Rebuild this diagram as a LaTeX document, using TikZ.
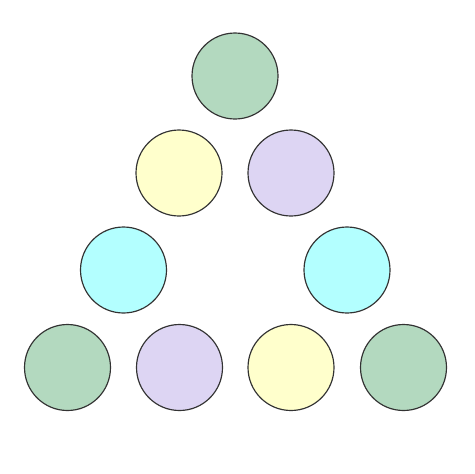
\documentclass[tikz,border=0pt]{standalone}
\usepackage{tikz}
\definecolor{ballgreen}{HTML}{B3D9BF}
\definecolor{ballyellow}{HTML}{FFFFCC}
\definecolor{balllilac}{HTML}{DDD5F3}
\definecolor{ballcyan}{HTML}{B3FFFF}
\definecolor{ballrim}{HTML}{333333}
\begin{document}
\begin{tikzpicture}[x=0.03cm,y=-0.03cm,line width=1pt]
        \useasboundingbox (0,0) rectangle (474,474);
        \draw[ballrim,fill=ballgreen] (235,76) circle [radius=43];
        \draw[ballrim,fill=ballyellow] (179,173) circle [radius=43];
        \draw[ballrim,fill=balllilac] (291,173) circle [radius=43];
        \draw[ballrim,fill=ballcyan] (123.5,270) circle [radius=43];
        \draw[ballrim,fill=ballcyan] (347,270) circle [radius=43];
        \draw[ballrim,fill=ballgreen] (67.5,367.5) circle [radius=43];
        \draw[ballrim,fill=balllilac] (179.5,367.5) circle [radius=43];
        \draw[ballrim,fill=ballyellow] (291,367.5) circle [radius=43];
        \draw[ballrim,fill=ballgreen] (403.5,367.5) circle [radius=43];
    \end{tikzpicture}
\end{document}
